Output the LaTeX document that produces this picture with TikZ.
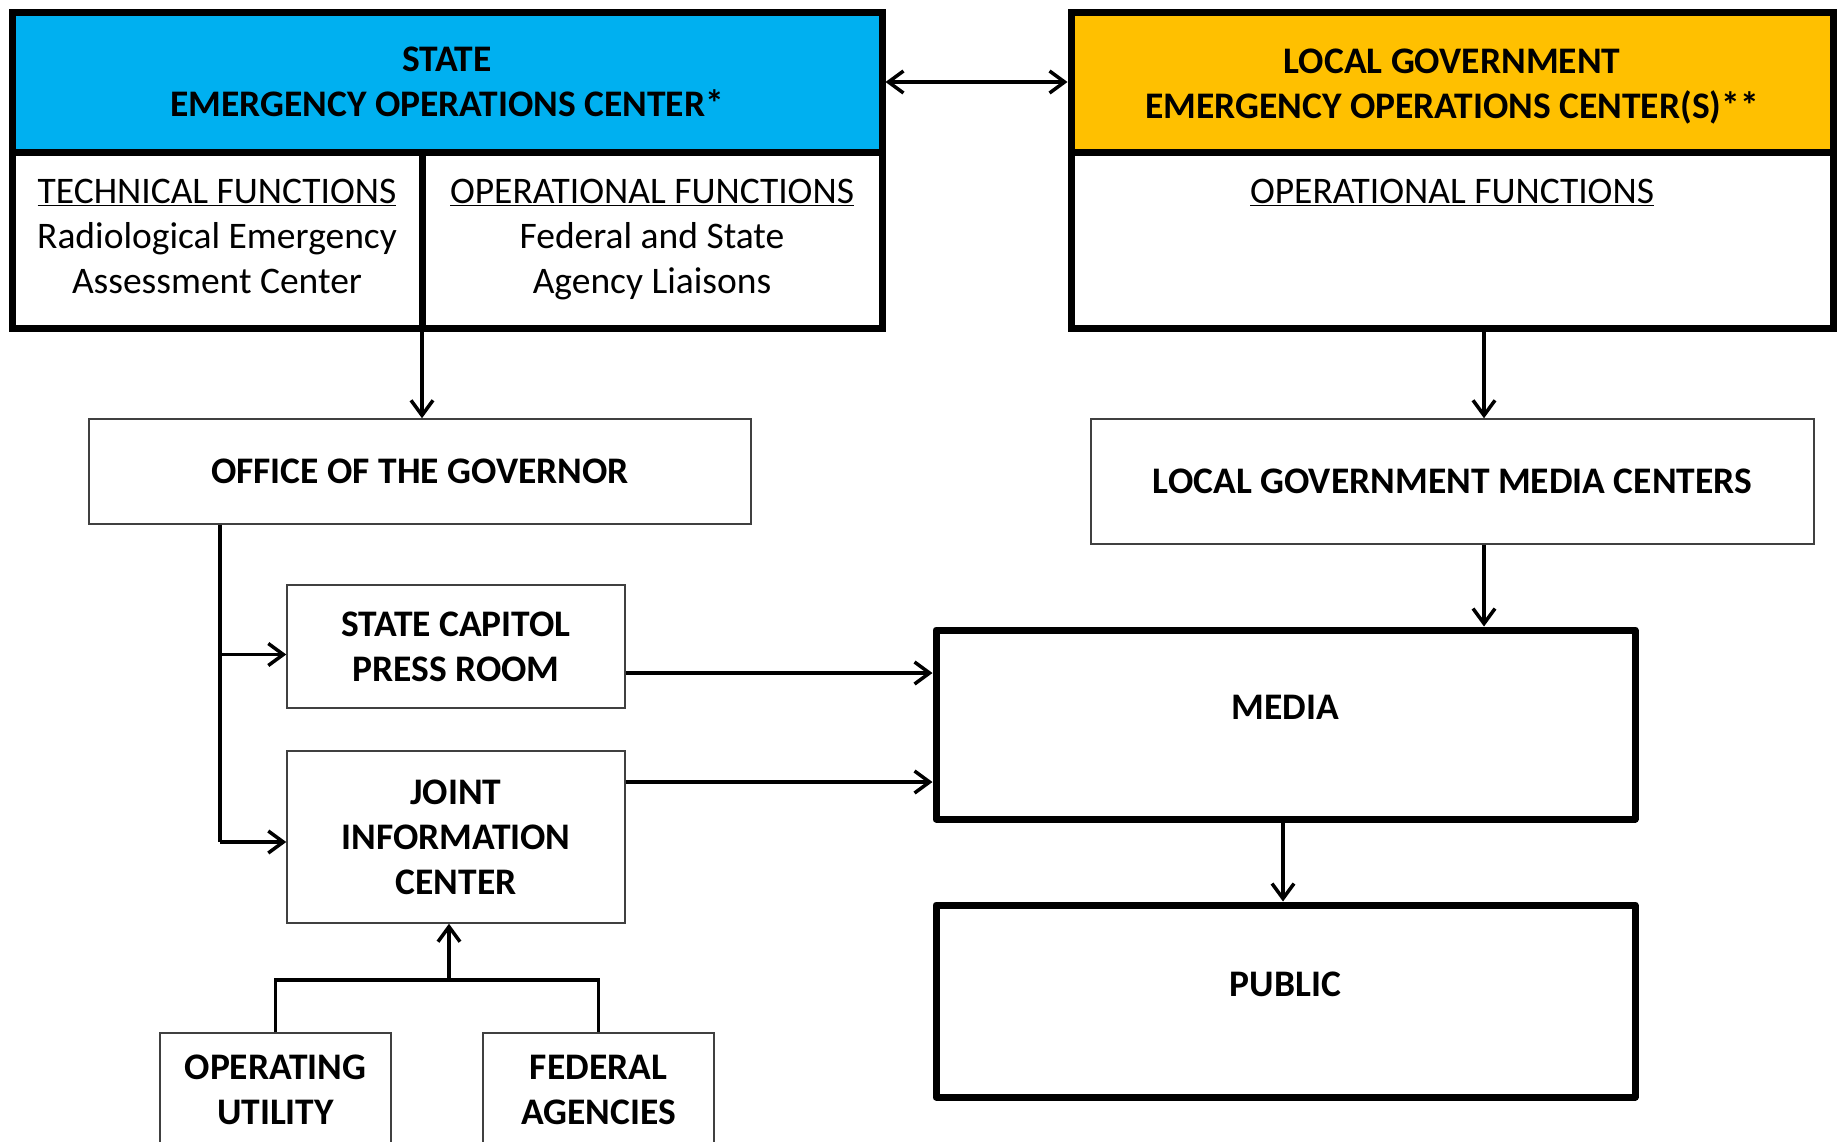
\documentclass[tikz,border=0pt]{standalone}
\usepackage{fontspec}
\setmainfont{Carlito}
\usetikzlibrary{arrows.meta}
\definecolor{eocblue}{HTML}{00B0F0}
\definecolor{eocgold}{HTML}{FFC000}
\definecolor{thingray}{HTML}{404040}
\tikzset{
  basetxt/.style={font=\fontsize{37.5}{45}\selectfont},
  boldtxt/.style={font=\fontsize{37.5}{45}\selectfont\bfseries},
  heavybox/.style={draw=black, line width=7pt, align=center, inner sep=0pt},
  thinbox/.style={draw=thingray, line width=1.5pt, align=center, inner sep=0pt, boldtxt},
  wire/.style={line width=3.5pt},
  link/.style={wire, ->},
  >={Straight Barb[length=15pt,width=22pt]}
}
\begin{document}
\begin{tikzpicture}[x=1pt,y=-1pt]
\clip (0,0) rectangle (1839,1141);
\fill[white] (0,0) rectangle (1839,1141);

% State EOC
\node[heavybox, fill=eocblue, boldtxt, minimum width=870pt, minimum height=140pt] (sh) at (447,82)
  {STATE\\EMERGENCY OPERATIONS CENTER*};
\node[heavybox, basetxt, minimum width=410pt, minimum height=176pt] (sl) at (217,240)
  {\underline{TECHNICAL FUNCTIONS}\\Radiological Emergency\\Assessment Center\rule[-8pt]{0pt}{8pt}};
\node[heavybox, basetxt, minimum width=460pt, minimum height=176pt] (sr) at (652,240)
  {\underline{OPERATIONAL FUNCTIONS}\\Federal and State\\Agency Liaisons};

% Local EOC
\node[heavybox, fill=eocgold, boldtxt, minimum width=762pt, minimum height=140pt] (lh) at (1452,82)
  {\rule{0pt}{33pt}LOCAL GOVERNMENT\\EMERGENCY OPERATIONS CENTER(S)**};
\node[heavybox, basetxt, minimum width=762pt, minimum height=176pt] (lb) at (1452,240)
  {\underline{OPERATIONAL FUNCTIONS}\\\mbox{}\\\rule[-8pt]{0pt}{8pt}};

% thin boxes
\node[thinbox, minimum width=662pt, minimum height=105pt] (gov) at (420,471.5) {OFFICE OF THE GOVERNOR};
\node[thinbox, minimum width=723pt, minimum height=125pt] (lgmc) at (1452.5,481.5) {LOCAL GOVERNMENT MEDIA CENTERS};
\node[thinbox, minimum width=338pt, minimum height=123pt] (scpr) at (456,646.5) {STATE CAPITOL\\PRESS ROOM};
\node[thinbox, minimum width=338pt, minimum height=172pt] (jic) at (456,837) {JOINT\\INFORMATION\\CENTER};
\node[thinbox, minimum width=231pt, minimum height=114pt] (ou) at (275.5,1090) {OPERATING\\UTILITY};
\node[thinbox, minimum width=231pt, minimum height=114pt] (fa) at (598.5,1090) {FEDERAL\\AGENCIES};

% heavy boxes
\node[heavybox, boldtxt, line join=round, minimum width=699pt, minimum height=189pt, text height=24pt, text depth=34pt] (media) at (1285.5,724.5) {MEDIA};
\node[heavybox, boldtxt, line join=round, minimum width=699pt, minimum height=192pt, text height=24pt, text depth=34pt] (public) at (1285.5,1001) {PUBLIC};

% connectors
\coordinate (dv) at (422,0);
\coordinate (lx) at (1484,0);
\coordinate (gx) at (220,0);
\coordinate (jx) at (449,980);

\draw[link, <->] (sh.east) -- (lh.west);
\draw[link] (sl.south -| dv) -- (gov.north -| dv);
\draw[link] (lb.south -| lx) -- (lgmc.north -| lx);
\draw[link] (lgmc.south -| lx) -- (media.north -| lx);
\draw[wire] (gov.south -| gx) -- ([yshift=-5pt]jic.west -| gx);
\draw[link] ([yshift=-5pt]jic.west -| gx) -- ([yshift=-5pt]jic.west);
\draw[link] ([yshift=-8pt]scpr.west -| gx) -- ([yshift=-8pt]scpr.west);
\draw[link] ([yshift=-26.5pt]scpr.east) -- ([yshift=-26.5pt]scpr.east -| media.west);
\draw[link] ([yshift=55pt]jic.east) -- ([yshift=55pt]jic.east -| media.west);
\draw[link] (media.south -| 1283,0) -- (public.north -| 1283,0);
\draw[wire] (ou.north) -- (ou.north |- jx) -- (fa.north |- jx) -- (fa.north);
\draw[link] (jx) -- (jx |- jic.south);
\end{tikzpicture}
\end{document}
